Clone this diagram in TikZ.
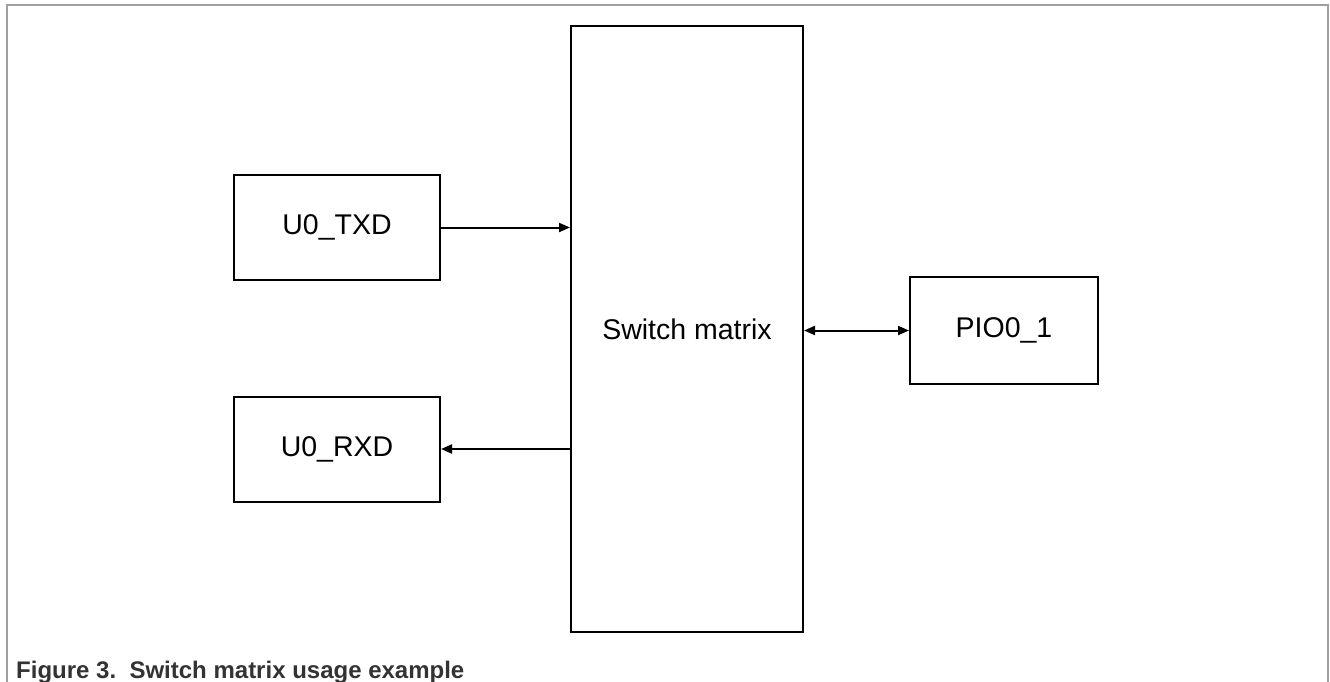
\documentclass[tikz,border=0pt]{standalone}
\usepackage{fontspec}
\setmainfont{Liberation Sans}
\usetikzlibrary{arrows.meta, positioning}
\definecolor{framegray}{HTML}{A0A0A0}
\definecolor{captiongray}{HTML}{333333}

\begin{document}
\begin{tikzpicture}[
    x=1pt, y=-1pt,
    >={Triangle[length=11pt, width=9pt]},
    font=\fontsize{28.5}{34}\selectfont,
    block/.style={draw, rectangle, line width=2pt, inner sep=0pt},
    signal/.style={block, minimum width=206pt, minimum height=105pt},
    arrow/.style={->, line width=2pt}
  ]
    \useasboundingbox (0,0) rectangle (1330,682);
    % frame and caption
    \draw[framegray, line width=2pt] (7,682) -- (7,5) -- (1328,5) -- (1328,682);
    \node[anchor=base west, inner sep=0pt, text=captiongray,
      font=\fontsize{24}{28}\selectfont\bfseries] (caption) at (16,678)
      {Figure 3.\ \ Switch matrix usage example};
    % blocks
    \node[block, minimum width=232pt, minimum height=606pt] (sm) at (687,329) {Switch matrix};
    \node[signal] (txd) at (337,227.5) {U0\_TXD};
    \node[signal] (rxd) at (337,449) {U0\_RXD};
    \node[block, minimum width=188pt, minimum height=107pt] (pio) at (1004,330.5) {PIO0\_1};
    % connections
    \draw[arrow] (txd) -- (txd -| sm.west);
    \draw[arrow] (rxd -| sm.west) -- (rxd);
    \draw[arrow, <->] (sm.east |- pio) -- (pio);
\end{tikzpicture}
\end{document}
